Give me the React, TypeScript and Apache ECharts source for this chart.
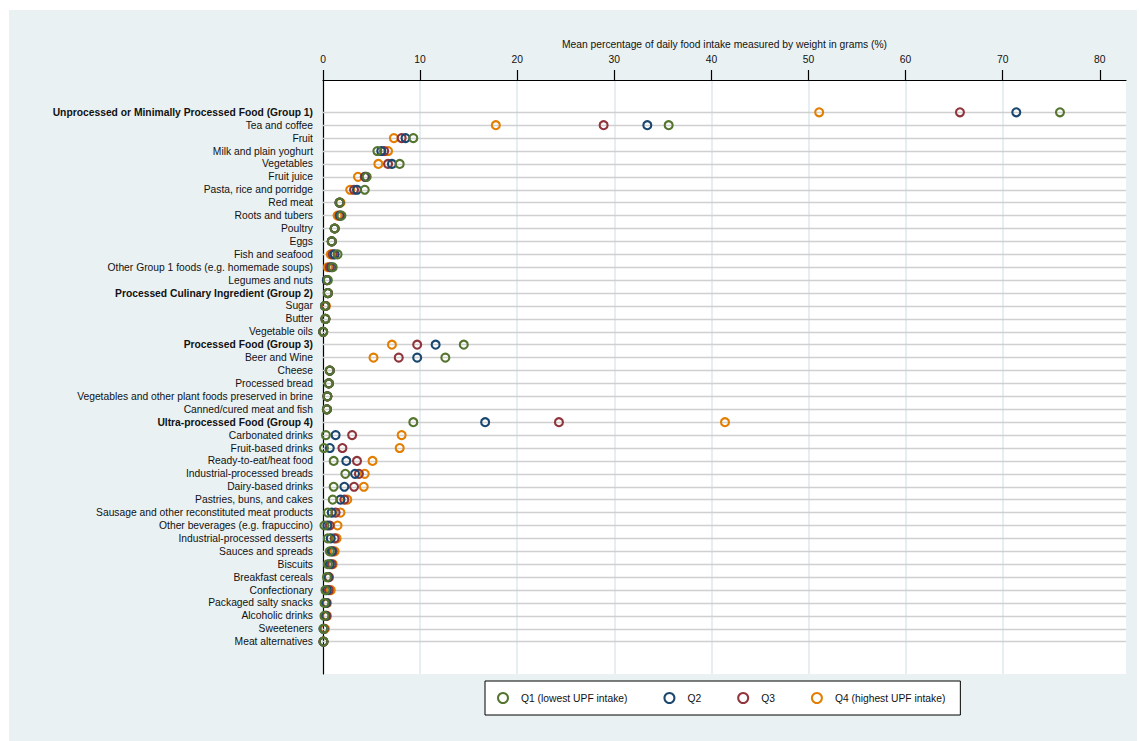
import React, { useEffect, useRef } from "react";
import * as echarts from "echarts";

const categories: string[] = [
  "Unprocessed or Minimally Processed Food (Group 1)",
  "Tea and coffee",
  "Fruit",
  "Milk and plain yoghurt",
  "Vegetables",
  "Fruit juice",
  "Pasta, rice and porridge",
  "Red meat",
  "Roots and tubers",
  "Poultry",
  "Eggs",
  "Fish and seafood",
  "Other Group 1 foods (e.g. homemade soups)",
  "Legumes and nuts",
  "Processed Culinary Ingredient (Group 2)",
  "Sugar",
  "Butter",
  "Vegetable oils",
  "Processed Food (Group 3)",
  "Beer and Wine",
  "Cheese",
  "Processed bread",
  "Vegetables and other plant foods preserved in brine",
  "Canned/cured meat and fish",
  "Ultra-processed Food (Group 4)",
  "Carbonated drinks",
  "Fruit-based drinks",
  "Ready-to-eat/heat food",
  "Industrial-processed breads",
  "Dairy-based drinks",
  "Pastries, buns, and cakes",
  "Sausage and other reconstituted meat products",
  "Other beverages (e.g. frapuccino)",
  "Industrial-processed desserts",
  "Sauces and spreads",
  "Biscuits",
  "Breakfast cereals",
  "Confectionary",
  "Packaged salty snacks",
  "Alcoholic drinks",
  "Sweeteners",
  "Meat alternatives",
];

const groupRows: string[] = [
  "Unprocessed or Minimally Processed Food (Group 1)",
  "Processed Culinary Ingredient (Group 2)",
  "Processed Food (Group 3)",
  "Ultra-processed Food (Group 4)",
];

const q1: number[] = [75.9, 35.6, 9.3, 5.6, 7.9, 4.5, 4.3, 1.7, 1.9, 1.2, 0.9, 1.5, 1.0, 0.5, 0.5, 0.2, 0.25, 0.02, 14.5, 12.6, 0.7, 0.6, 0.45, 0.4, 9.3, 0.3, 0.1, 1.1, 2.3, 1.1, 1.0, 0.5, 0.15, 0.5, 0.7, 0.5, 0.4, 0.25, 0.15, 0.15, 0.05, 0.05];
const q2: number[] = [71.4, 33.4, 8.5, 6.0, 7.1, 4.4, 3.5, 1.7, 1.8, 1.2, 0.9, 1.2, 0.9, 0.4, 0.5, 0.2, 0.25, 0.02, 11.6, 9.7, 0.7, 0.6, 0.45, 0.4, 16.7, 1.3, 0.7, 2.4, 3.3, 2.2, 1.8, 0.9, 0.45, 0.8, 0.9, 0.7, 0.5, 0.4, 0.3, 0.25, 0.05, 0.05];
const q3: number[] = [65.6, 28.9, 8.1, 6.3, 6.7, 4.3, 3.2, 1.7, 1.7, 1.2, 0.9, 1.0, 0.7, 0.4, 0.5, 0.25, 0.25, 0.02, 9.7, 7.8, 0.7, 0.6, 0.45, 0.4, 24.3, 3.0, 2.0, 3.5, 3.7, 3.2, 2.2, 1.3, 0.7, 1.2, 1.0, 0.9, 0.6, 0.6, 0.35, 0.35, 0.1, 0.05];
const q4: number[] = [51.1, 17.8, 7.3, 6.7, 5.7, 3.6, 2.8, 1.8, 1.5, 1.2, 0.9, 0.8, 0.5, 0.4, 0.5, 0.3, 0.25, 0.02, 7.1, 5.2, 0.7, 0.6, 0.45, 0.4, 41.4, 8.1, 7.9, 5.1, 4.3, 4.2, 2.5, 1.8, 1.5, 1.4, 1.2, 1.0, 0.6, 0.8, 0.4, 0.4, 0.2, 0.05];

const seriesNames: string[] = ["Q1 (lowest UPF intake)", "Q2", "Q3", "Q4 (highest UPF intake)"];
const xTicks: number[] = [0, 10, 20, 30, 40, 50, 60, 70, 80];

const COLORS = ["#55752f", "#1a476f", "#90353b", "#e37e00"];
const FONT = "'Liberation Sans', Arial, Helvetica, sans-serif";
const FS = 10.3;

export default function App() {
  const ref = useRef<HTMLDivElement>(null);

  useEffect(() => {
    if (!ref.current) return;
    const chart = echarts.init(ref.current, null, { renderer: "svg" });
    const values = [q1, q2, q3, q4];
    const mkSeries = (k: number) => ({
      name: seriesNames[k],
      type: "scatter",
      symbol: "circle",
      symbolSize: 8,
      itemStyle: { color: "rgba(255,255,255,0)", borderColor: COLORS[k], borderWidth: 2.1, opacity: 1 },
      data: values[k].map((v, i) => [v, i]),
      z: 3 + (3 - k),
      silent: true,
    });
    const order = [3, 2, 1, 0];
    const series: any[] = order.map((k) => mkSeries(k));
    series[0].markLine = {
      silent: true,
      symbol: ["none", "none"],
      z: 1,
      label: { show: false },
      lineStyle: { color: "#d0d0d0", width: 1.4, type: "solid" },
      data: categories.map((_, i) => ({ yAxis: i })),
    };

    chart.setOption({
      animation: false,
      backgroundColor: "#eaf1f3",
      textStyle: { fontFamily: FONT },
      grid: {
        left: 314,
        top: 70,
        width: 803,
        height: 594,
        show: true,
        backgroundColor: "#ffffff",
        borderWidth: 0,
      },
      legend: {
        data: seriesNames,
        left: 476,
        top: 671,
        orient: "horizontal",
        backgroundColor: "#ffffff",
        borderColor: "#000",
        borderWidth: 1,
        borderRadius: 0,
        padding: [11, 15, 11, 12],
        itemGap: 36,
        itemWidth: 10,
        itemHeight: 10,
        icon: "circle",
        textStyle: { fontSize: FS, color: "#111", fontFamily: FONT, padding: [0, 0, 0, 8] },
      },
      xAxis: {
        type: "value",
        position: "top",
        min: 0,
        max: 82.7,
        interval: 5,
        name: "Mean percentage of daily food intake measured by weight in grams (%)",
        nameLocation: "middle",
        nameGap: 30,
        nameTextStyle: { fontSize: FS, color: "#111", fontFamily: FONT },
        axisLine: { show: true, onZero: false, lineStyle: { color: "#000", width: 1.2 } },
        axisTick: { show: true, length: 10, customValues: xTicks, lineStyle: { color: "#000", width: 1.2 } },
        axisLabel: { customValues: xTicks, margin: 16, fontSize: FS, color: "#111", fontFamily: FONT },
        splitLine: {
          show: true,
          showMinLine: false,
          showMaxLine: false,
          lineStyle: { color: "#dde8ed", width: 1.5 },
        },
      },
      yAxis: {
        type: "value",
        inverse: true,
        min: -2.5,
        max: 43.5,
        interval: 0.5,
        axisLine: { show: true, onZero: false, lineStyle: { color: "#000", width: 1.2 } },
        axisTick: { show: false },
        splitLine: { show: false },
        axisLabel: {
          margin: 10,
          showMinLabel: false,
          showMaxLabel: false,
          formatter: (v: number) => {
            if (!Number.isInteger(v) || v < 0 || v >= categories.length) return "";
            const name = categories[v];
            return groupRows.includes(name) ? `{b|${name}}` : `{n|${name}}`;
          },
          rich: {
            b: { fontSize: FS, fontWeight: "bold", color: "#111", fontFamily: FONT },
            n: { fontSize: FS, color: "#111", fontFamily: FONT },
          },
        },
      },
      series,
    });
    return () => chart.dispose();
  }, []);

  return (
    <div style={{ position: "fixed", left: 0, top: 0, width: 1139, height: 741, background: "#ffffff", overflow: "hidden" }}>
      <div ref={ref} style={{ position: "absolute", left: 9, top: 10, width: 1128, height: 731 }} />
    </div>
  );
}
